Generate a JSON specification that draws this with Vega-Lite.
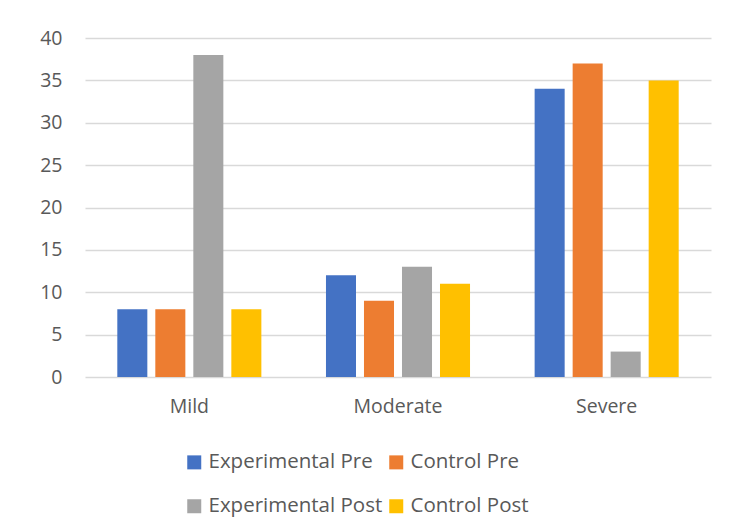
{
  "$schema": "https://vega.github.io/schema/vega-lite/v6.json",
  "width": 626,
  "height": 339,
  "autosize": "none",
  "padding": {"left": 85, "top": 38, "right": 39, "bottom": 149},
  "background": "white",
  "data": {
    "values": [
      {"severity": "Mild", "group": "Experimental Pre", "value": 8},
      {"severity": "Mild", "group": "Control Pre", "value": 8},
      {"severity": "Mild", "group": "Experimental Post", "value": 38},
      {"severity": "Mild", "group": "Control Post", "value": 8},
      {"severity": "Moderate", "group": "Experimental Pre", "value": 12},
      {"severity": "Moderate", "group": "Control Pre", "value": 9},
      {"severity": "Moderate", "group": "Experimental Post", "value": 13},
      {"severity": "Moderate", "group": "Control Post", "value": 11},
      {"severity": "Severe", "group": "Experimental Pre", "value": 34},
      {"severity": "Severe", "group": "Control Pre", "value": 37},
      {"severity": "Severe", "group": "Experimental Post", "value": 3},
      {"severity": "Severe", "group": "Control Post", "value": 35}
    ]
  },
  "mark": {"type": "bar"},
  "encoding": {
    "x": {
      "field": "severity",
      "type": "nominal",
      "sort": ["Mild", "Moderate", "Severe"],
      "scale": {"paddingInner": 0, "paddingOuter": 0},
      "axis": {
        "title": null,
        "labelAngle": 0,
        "ticks": false,
        "domain": false,
        "labelPadding": 20,
        "labelFontSize": 19.5,
        "labelFont": "Open Sans",
        "labelColor": "#595959"
      }
    },
    "xOffset": {
      "field": "group",
      "type": "nominal",
      "sort": ["Experimental Pre", "Control Pre", "Experimental Post", "Control Post"],
      "scale": {"paddingInner": 0.21, "paddingOuter": 0.85}
    },
    "y": {
      "field": "value",
      "type": "quantitative",
      "scale": {"domain": [0, 40]},
      "axis": {
        "title": null,
        "values": [0, 5, 10, 15, 20, 25, 30, 35, 40],
        "ticks": false,
        "domain": false,
        "gridColor": "#D9D9D9",
        "gridWidth": 1.3,
        "labelPadding": 23,
        "labelFontSize": 19.5,
        "labelFont": "Open Sans",
        "labelColor": "#595959"
      }
    },
    "color": {
      "field": "group",
      "type": "nominal",
      "sort": ["Experimental Pre", "Control Pre", "Experimental Post", "Control Post"],
      "scale": {
        "domain": ["Experimental Pre", "Control Pre", "Experimental Post", "Control Post"],
        "range": ["#4472C4", "#ED7D31", "#A5A5A5", "#FFC000"]
      },
      "legend": {
        "title": null,
        "orient": "none",
        "legendX": 99,
        "legendY": 414,
        "direction": "horizontal",
        "columns": 2,
        "columnPadding": 3,
        "rowPadding": 23,
        "symbolType": "square",
        "symbolSize": 196,
        "symbolStrokeWidth": 0,
        "labelFontSize": 20.5,
        "labelFont": "Open Sans",
        "labelColor": "#595959",
        "labelOffset": 4,
        "labelLimit": 400
      }
    }
  },
  "config": {
    "view": {"stroke": null}
  }
}
